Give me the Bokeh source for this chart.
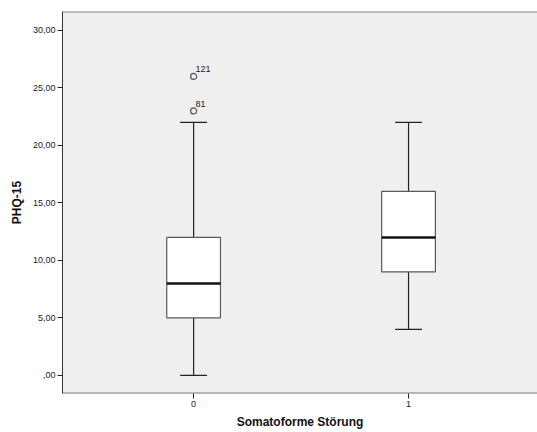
from bokeh.plotting import figure
from bokeh.models import Range1d, FixedTicker, ColumnDataSource, Span
from bokeh.core.properties import value
from bokeh.embed import file_html
from bokeh.resources import INLINE

# Data
groups = [0, 1]
group_labels = ["0", "1"]
lower_whisker = [0, 4]
q1 = [5, 9]
median = [8, 12]
q3 = [12, 16]
upper_whisker = [22, 22]
outlier_group = [0, 0]
outlier_values = [26, 23]
outlier_ids = ["121", "81"]
y_ticks = [0, 5, 10, 15, 20, 25, 30]
y_tick_labels = [",00", "5,00", "10,00", "15,00", "20,00", "25,00", "30,00"]

FONT = "Liberation Sans"
box_w = 0.25
cap_w = 0.125
Y_TOP = 31.65
Y_BOTTOM = -1.57

p = figure(width=537, height=432, output_backend="svg", toolbar_location=None,
           x_range=Range1d(-0.61, 1.6), y_range=Range1d(Y_BOTTOM, Y_TOP))
p.min_border = 0
p.min_border_left = 62
p.min_border_right = 0
p.min_border_top = 11
p.min_border_bottom = 39
p.background_fill_color = "#efefef"
p.border_fill_color = "white"
p.outline_line_color = None
p.grid.visible = False
p.add_layout(Span(location=Y_TOP, dimension="width", line_color="#8a8a8a", line_width=2))
p.add_layout(Span(location=Y_BOTTOM, dimension="width", line_color="#7a7a7a", line_width=2))

src = ColumnDataSource(dict(g=groups, lo=lower_whisker, q1=q1, med=median, q3=q3, hi=upper_whisker,
                            cl=[g - cap_w / 2 for g in groups], cr=[g + cap_w / 2 for g in groups],
                            bl=[g - box_w / 2 for g in groups], br=[g + box_w / 2 for g in groups]))

# whiskers
p.segment(x0="g", y0="q3", x1="g", y1="hi", source=src, line_color="#222222", line_width=1.2)
p.segment(x0="g", y0="q1", x1="g", y1="lo", source=src, line_color="#222222", line_width=1.2)
p.segment(x0="cl", y0="hi", x1="cr", y1="hi", source=src, line_color="#222222", line_width=1.2)
p.segment(x0="cl", y0="lo", x1="cr", y1="lo", source=src, line_color="#222222", line_width=1.2)
# boxes
p.quad(left="bl", right="br", bottom="q1", top="q3", source=src,
       fill_color="white", line_color="#5a5a5a", line_width=1.2)
# medians
p.segment(x0="bl", y0="med", x1="br", y1="med", source=src, line_color="#111111", line_width=2.5)

# outliers
osrc = ColumnDataSource(dict(x=outlier_group, y=outlier_values, t=outlier_ids))
p.scatter(x="x", y="y", source=osrc, marker="circle", size=6, fill_color="#efefef",
          line_color="#555555", line_width=1.2)
p.text(x="x", y="y", text="t", source=osrc, x_offset=2, y_offset=-4,
       text_font=value(FONT), text_font_size="9px", text_color="#222222",
       text_baseline="bottom", text_align="left")

# axes
p.yaxis.ticker = FixedTicker(ticks=y_ticks)
p.yaxis.major_label_overrides = {t: l for t, l in zip(y_ticks, y_tick_labels)}
p.xaxis.ticker = FixedTicker(ticks=groups)
p.xaxis.major_label_overrides = {g: l for g, l in zip(groups, group_labels)}
for ax in (p.xaxis, p.yaxis):
    ax.major_tick_out = 5
    ax.major_tick_in = 0
    ax.minor_tick_out = 0
    ax.minor_tick_in = 0
    ax.major_label_text_font = FONT
    ax.major_label_text_font_size = "9px"
    ax.major_label_text_color = "#222222"
    ax.axis_label_text_font = FONT
    ax.axis_label_text_font_style = "bold"
    ax.axis_label_text_font_size = "12px"
    ax.axis_label_text_color = "#111111"
    ax.major_tick_line_color = "#222222"
p.yaxis.axis_line_color = "#333333"
p.xaxis.axis_line_color = None
p.yaxis.axis_label = "PHQ-15"
p.xaxis.axis_label = "Somatoforme Störung"
p.yaxis.major_label_standoff = 2
p.yaxis.axis_label_standoff = 6
p.xaxis.major_label_standoff = 2
p.xaxis.axis_label_standoff = 5

open("out.html", "w").write(file_html(p, INLINE))
